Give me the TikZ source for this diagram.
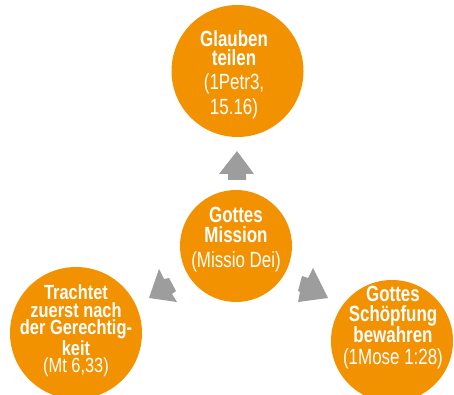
\documentclass[tikz,border=0pt]{standalone}
\usepackage{fontspec}
\setmainfont[FakeStretch=0.77]{Liberation Sans}
\newfontfamily\leftfont[FakeStretch=0.8]{Liberation Sans}
\definecolor{orng}{HTML}{F39200}
\definecolor{arrgray}{HTML}{9D9D9D}
\begin{document}
\begin{tikzpicture}[x=1pt,y=-1pt,
  circ/.style={circle,fill=orng,draw=none,inner sep=0pt},
  txt/.style={text=white,align=center,inner sep=0pt},
  blockarrow/.style={fill=arrgray,draw=none}]
\useasboundingbox (0,0) rectangle (454,395);
\begin{scope}
\clip (0,0) rectangle (454,395);
\node[circ,minimum size=132pt] (top) at (237.5,71) {};
\node[circ,minimum size=112pt] (mid) at (236,246) {};
\node[circ,minimum size=132pt] (left) at (76,333) {};
\node[circ,minimum size=122pt] (right) at (392,341) {};
\end{scope}
\node[txt,font=\fontsize{22}{18.5}\selectfont] (ttop) at (234,75)
  {\textbf{Glauben}\\\textbf{teilen}\\[6pt](1Petr3,\\[3pt]15.16)};
\node[txt,font=\fontsize{22}{20}\selectfont] (tmid) at (236,240)
  {\textbf{Gottes}\\\textbf{Mission}\\[5pt](Missio Dei)};
\node[txt,font=\leftfont\fontsize{20.5}{17.5}\selectfont] (tleft) at (76,331)
  {\textbf{Trachtet}\\\textbf{zuerst nach}\\\textbf{der Gerechtig-}\\\textbf{keit}\\(Mt 6,33)};
\node[txt,font=\fontsize{22}{19.5}\selectfont] (tright) at (393,328)
  {\textbf{Gottes}\\\textbf{Schöpfung}\\\textbf{bewahren}\\[2.5pt](1Mose 1:28)};
\fill[blockarrow] (237,151) -- (254,174) -- (246,174) -- (246,180) -- (228,180) -- (228,174) -- (219,174) -- cycle;
\fill[blockarrow] (159,269) -- (164,279) -- (169,278) -- (176,291) -- (172,294) -- (177,302) -- (149,298) -- cycle;
\fill[blockarrow] (313,268) -- (328,298) -- (298,302) -- (300,292) -- (298,291) -- (302,276) -- (308,278) -- cycle;
\end{tikzpicture}
\end{document}
